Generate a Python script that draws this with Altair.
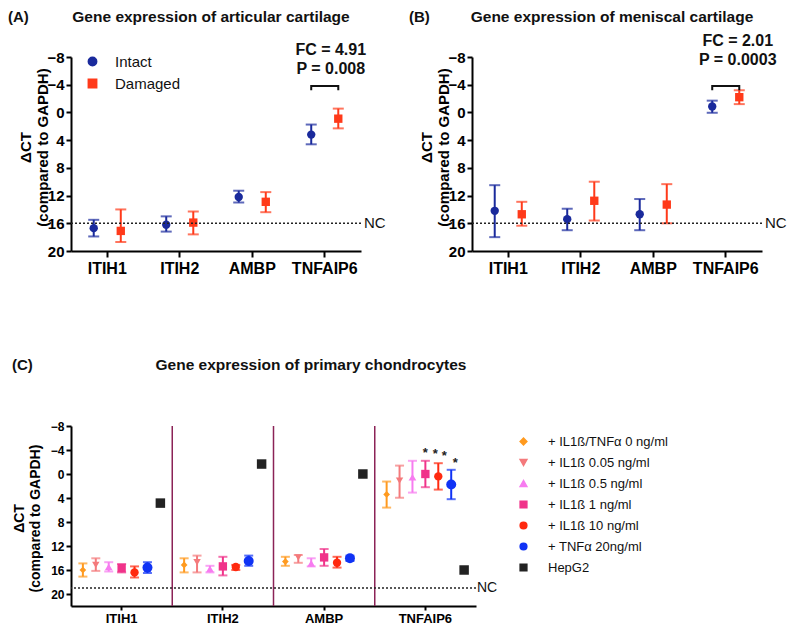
import altair as alt
import pandas as pd

FONT = "Liberation Sans"

cats = ["ITIH1", "ITIH2", "AMBP", "TNFAIP6"]
groups = ["Intact", "Damaged"]
group_colors = ["#1a2a9c", "#ff3a1a"]
group_shapes = ["circle", "square"]
yticks = [-8, -4, 0, 4, 8, 12, 16, 20]

# Panel A: articular cartilage
a_intact_mean = [16.7, 16.2, 12.2, 3.2]
a_intact_lo = [15.5, 15.0, 11.3, 1.75]
a_intact_hi = [17.9, 17.2, 13.0, 4.6]
a_damaged_mean = [17.1, 15.9, 12.9, 0.9]
a_damaged_lo = [14.0, 14.3, 11.5, -0.55]
a_damaged_hi = [18.7, 17.6, 14.4, 2.3]

# Panel B: meniscal cartilage
b_intact_mean = [14.2, 15.4, 14.7, -0.85]
b_intact_lo = [10.5, 13.9, 12.5, -1.7]
b_intact_hi = [18.0, 17.0, 17.0, 0.05]
b_damaged_mean = [14.7, 12.75, 13.3, -2.2]
b_damaged_lo = [12.9, 10.0, 10.35, -3.2]
b_damaged_hi = [16.35, 15.6, 16.0, -1.2]

nc_top = 16
nc_c = 19

# Panel C: primary chondrocytes
series = ["+ IL1ß/TNFα 0 ng/ml", "+ IL1ß 0.05 ng/ml", "+ IL1ß 0.5 ng/ml",
          "+ IL1ß 1 ng/ml", "+ IL1ß 10 ng/ml", "+ TNFα 20ng/ml", "HepG2"]
series_colors = ["#ff9a1f", "#f47a7c", "#f77cf0", "#f0338a", "#ff2a10", "#1033f5", "#222222"]
series_shapes = ["diamond", "triangle-down", "triangle-up", "square", "circle", "circle", "square"]
series_sizes = [45, 55, 60, 70, 70, 100, 90]

c_mean = [
    [16.0, 15.15, 14.6, 3.4],
    [15.15, 14.7, 13.9, 1.1],
    [15.5, 15.8, 14.9, 0.54],
    [15.7, 15.4, 13.9, 0.0],
    [16.4, 15.5, 14.8, 0.4],
    [15.6, 14.5, 14.05, 1.76],
    [4.85, -1.66, 0.0, 16.0],
]
c_lo = [
    [14.9, 14.05, 13.8, 1.26],
    [14.05, 13.6, 13.5, -1.4],
    [14.7, 15.3, 14.05, -2.2],
    [15.0, 13.8, 12.5, -2.2],
    [15.4, 15.15, 13.8, -1.8],
    [14.7, 13.6, 13.6, -0.7],
    [None, None, None, None],
]
c_hi = [
    [17.1, 16.4, 15.3, 5.6],
    [16.15, 16.4, 14.8, 3.96],
    [16.25, 16.4, 15.4, 3.1],
    [16.4, 16.9, 15.3, 2.2],
    [17.25, 16.0, 15.6, 2.6],
    [16.5, 15.3, 14.5, 4.2],
    [None, None, None, None],
]
# significance stars (TNFAIP6): series, y value, pixel nudge
star_series = ["+ IL1ß 1 ng/ml", "+ IL1ß 10 ng/ml", "+ IL1ß 10 ng/ml", "+ TNFα 20ng/ml"]
star_y = [-4.0, -3.9, -3.5, -2.4]
star_dx = [0, -3, 6, 4]

W_TOP, H_TOP = 290, 194
W_C, H_C = 405, 180


def y_axis(size, title_size, title_x, title_y):
    return alt.Axis(values=yticks, labelFontSize=size, labelFontWeight="bold", labelOverlap=False,
                    domainWidth=2, tickWidth=2, tickSize=5, labelPadding=2,
                    title=["ΔCT", "(compared to GAPDH)"], titleFontSize=title_size,
                    titleFontWeight="bold", titleX=title_x, titleY=title_y,
                    titleLineHeight=title_size + 2)


def top_panel(mi, li, hi_, md, ld, hd, tag, title, fc, pv, fc_dx, fc_y, leg_x):
    rows = []
    for g, m, lo, hi in [("Intact", mi, li, hi_), ("Damaged", md, ld, hd)]:
        for c, mv, l, h in zip(cats, m, lo, hi):
            rows.append({"cat": c, "grp": g, "mean": mv, "lo": l, "hi": h})
    df = pd.DataFrame(rows)

    xenc = alt.X("cat:N", scale=alt.Scale(domain=cats, paddingInner=0, paddingOuter=0),
                 axis=alt.Axis(labelFontSize=16, labelFontWeight="bold", labelAngle=0,
                               domainWidth=2, tickWidth=2, tickSize=6, labelPadding=3),
                 title=None)
    xo = alt.XOffset("grp:N", scale=alt.Scale(domain=groups, paddingInner=0, paddingOuter=0.34))
    yscale = alt.Scale(domain=[-8, 20], reverse=True, nice=False, zero=False)
    yax = y_axis(15, 15, -38, 90)

    def Y(f):
        return alt.Y(f, scale=yscale, axis=yax)

    leg = alt.Legend(orient="none", legendX=leg_x, legendY=-3, title=None, labelFontSize=15,
                     labelFont=FONT, symbolSize=70, rowPadding=6, labelOffset=15)
    color = alt.Color("grp:N", scale=alt.Scale(domain=groups, range=group_colors), legend=leg)
    shape = alt.Shape("grp:N", scale=alt.Scale(domain=groups, range=group_shapes), legend=leg)

    base = alt.Chart(df)
    pts = base.mark_point(filled=True, size=70, opacity=1).encode(
        x=xenc, xOffset=xo, y=Y("mean:Q"), color=color, shape=shape)
    bars = base.mark_rule(strokeWidth=2).encode(x=xenc, xOffset=xo, y=Y("lo:Q"), y2="hi:Q", color=color)
    cap_lo = base.mark_tick(size=11, thickness=2).encode(x=xenc, xOffset=xo, y=Y("lo:Q"), color=color)
    cap_hi = base.mark_tick(size=11, thickness=2).encode(x=xenc, xOffset=xo, y=Y("hi:Q"), color=color)

    nc = alt.Chart(pd.DataFrame({"nc": [nc_top], "t": ["NC"]}))
    nc_line = nc.mark_rule(strokeDash=[2, 2], strokeWidth=1.5, color="#222").encode(y=Y("nc:Q"))
    nc_text = nc.mark_text(align="left", baseline="middle", fontSize=15, dx=3, color="#111").encode(
        x=alt.value(W_TOP), y=Y("nc:Q"), text="t:N")

    br = pd.DataFrame({"cat": ["TNFAIP6"] * 4, "grp": ["Intact", "Intact", "Damaged", "Damaged"],
                       "v": [-3.2, -3.8, -3.8, -3.2], "o": [0, 1, 2, 3]})
    bracket = alt.Chart(br).mark_line(color="#111", strokeWidth=2).encode(
        x=xenc, xOffset=xo, y=Y("v:Q"), order="o:Q")

    fct = alt.Chart(pd.DataFrame({"cat": ["TNFAIP6"], "fc": [fc], "p": [pv]}))
    fc_text = fct.mark_text(fontSize=16, fontWeight="bold", dx=fc_dx, baseline="middle", color="#111").encode(
        x=xenc, y=alt.value(fc_y), text="fc:N")
    p_text = fct.mark_text(fontSize=16, fontWeight="bold", dx=fc_dx, baseline="middle", color="#111").encode(
        x=xenc, y=alt.value(fc_y + 19), text="p:N")

    tt = alt.Chart(pd.DataFrame({"tag": [tag], "title": [title]}))
    tag_text = tt.mark_text(fontSize=15, fontWeight="bold", align="left", baseline="middle", color="#111").encode(
        x=alt.value(-63), y=alt.value(-40), text="tag:N")
    title_text = tt.mark_text(fontSize=15.5, fontWeight="bold", align="center", baseline="middle", color="#111").encode(
        x=alt.value(140), y=alt.value(-40), text="title:N")

    return alt.layer(pts, bars, cap_lo, cap_hi, nc_line, nc_text, bracket, fc_text, p_text,
                     tag_text, title_text).properties(width=W_TOP, height=H_TOP)


panel_a = top_panel(a_intact_mean, a_intact_lo, a_intact_hi, a_damaged_mean, a_damaged_lo, a_damaged_hi,
                    "(A)", "Gene expression of articular cartilage", "FC = 4.91", "P = 0.008", 6, -7, 14)
panel_b = top_panel(b_intact_mean, b_intact_lo, b_intact_hi, b_damaged_mean, b_damaged_lo, b_damaged_hi,
                    "(B)", "Gene expression of meniscal cartilage", "FC = 2.01", "P = 0.0003", 12, -16, 14)

# Panel C
rows = []
for s, m, lo, hi, sz in zip(series, c_mean, c_lo, c_hi, series_sizes):
    for c, mv, l, h in zip(cats, m, lo, hi):
        rows.append({"cat": c, "ser": s, "mean": mv, "lo": l, "hi": h, "sz": sz})
dfc = pd.DataFrame(rows)

xc = alt.X("cat:N", scale=alt.Scale(domain=cats, paddingInner=0, paddingOuter=0),
           axis=alt.Axis(labelFontSize=13, labelFontWeight="bold", labelAngle=0,
                         domainWidth=2, tickWidth=2, tickSize=4, labelPadding=2),
           title=None)
xoc = alt.XOffset("ser:N", scale=alt.Scale(domain=series, paddingInner=0, paddingOuter=0.42))
ycs = alt.Scale(domain=[-8, 22], reverse=True, nice=False, zero=False)
ycax = y_axis(12, 14, -45, 92)


def YC(f):
    return alt.Y(f, scale=ycs, axis=ycax)


legc = alt.Legend(orient="none", legendX=446, legendY=9, title=None, labelFontSize=13,
                  labelFont=FONT, symbolSize=45, rowPadding=7, labelOffset=18)
colc = alt.Color("ser:N", scale=alt.Scale(domain=series, range=series_colors), legend=legc)
shc = alt.Shape("ser:N", scale=alt.Scale(domain=series, range=series_shapes), legend=legc)

basec = alt.Chart(dfc)
ptc = basec.mark_point(filled=True, opacity=1).encode(
    x=xc, xOffset=xoc, y=YC("mean:Q"), color=colc, shape=shc,
    size=alt.Size("sz:Q", scale=None, legend=None))
errc = basec.transform_filter("datum.lo != null")
barc = errc.mark_rule(strokeWidth=2).encode(x=xc, xOffset=xoc, y=YC("lo:Q"), y2="hi:Q", color=colc)
capc_lo = errc.mark_tick(size=9, thickness=2).encode(x=xc, xOffset=xoc, y=YC("lo:Q"), color=colc)
capc_hi = errc.mark_tick(size=9, thickness=2).encode(x=xc, xOffset=xoc, y=YC("hi:Q"), color=colc)

divs = alt.Chart(pd.DataFrame({"cat": cats[1:]})).mark_rule(color="#8b2357", strokeWidth=1.5).encode(
    x=alt.X("cat:N", bandPosition=0, scale=alt.Scale(domain=cats, paddingInner=0, paddingOuter=0)))

ncc = alt.Chart(pd.DataFrame({"nc": [nc_c], "t": ["NC"]}))
ncc_line = ncc.mark_rule(strokeDash=[2, 2], strokeWidth=1.5, color="#222").encode(y=YC("nc:Q"))
ncc_text = ncc.mark_text(align="left", baseline="middle", fontSize=14, dx=1, color="#111").encode(
    x=alt.value(W_C), y=YC("nc:Q"), text="t:N")

star_layers = []
for s, yv, dx in zip(star_series, star_y, star_dx):
    sd = pd.DataFrame({"cat": ["TNFAIP6"], "ser": [s], "v": [yv], "t": ["*"]})
    star_layers.append(alt.Chart(sd).mark_text(fontSize=13, fontWeight="bold", dx=dx, dy=3, color="#222").encode(
        x=xc, xOffset=xoc, y=YC("v:Q"), text="t:N"))

ttc = alt.Chart(pd.DataFrame({"tag": ["(C)"], "title": ["Gene expression of primary chondrocytes"]}))
tagc = ttc.mark_text(fontSize=15, fontWeight="bold", align="left", baseline="middle", color="#111").encode(
    x=alt.value(-59), y=alt.value(-61), text="tag:N")
titlec = ttc.mark_text(fontSize=15.5, fontWeight="bold", align="center", baseline="middle", color="#111").encode(
    x=alt.value(240), y=alt.value(-61), text="title:N")

panel_c = alt.layer(ptc, barc, capc_lo, capc_hi, divs, ncc_line, ncc_text, *star_layers, tagc, titlec).properties(
    width=W_C, height=H_C)

top_row = alt.hconcat(panel_a, panel_b, spacing=23)
chart = alt.concat(top_row, panel_c, columns=1, align="none", spacing=82).resolve_scale(
    x="independent", y="independent", color="independent", shape="independent",
    xOffset="independent", size="independent").resolve_axis(
    x="independent", y="independent").resolve_legend(
    color="independent", shape="independent").properties(
    padding={"left": 0, "top": 2, "right": 0, "bottom": 0}).configure_view(
    stroke=None).configure_axis(
    domainColor="black", tickColor="black", labelColor="black", titleColor="black",
    grid=False, labelFont=FONT, titleFont=FONT).configure_text(font=FONT).configure_legend(
    labelFont=FONT, labelColor="#111")

chart.save("out.html", embed_options={"renderer": "svg", "actions": False})
